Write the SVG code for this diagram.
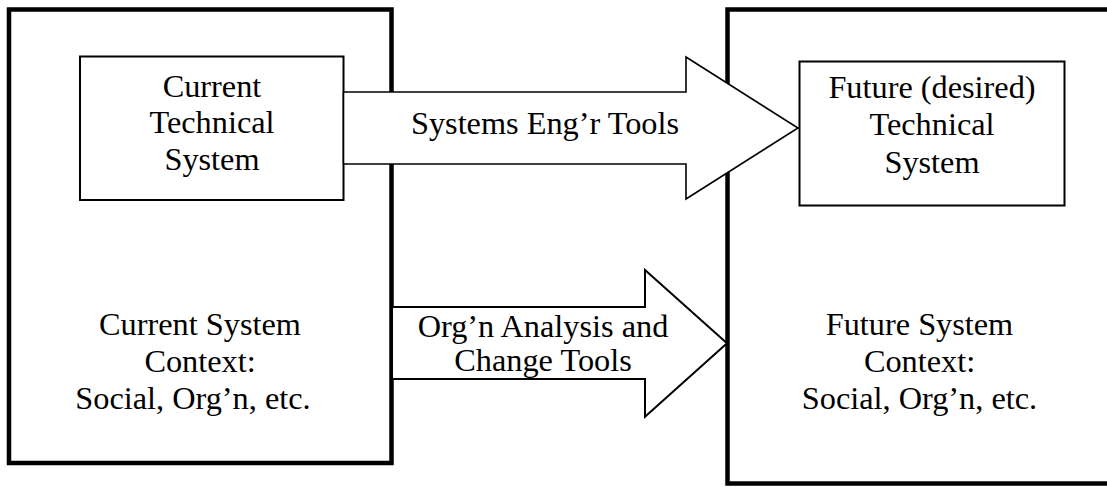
<svg xmlns="http://www.w3.org/2000/svg" width="1107" height="487" viewBox="0 0 1107 487">
<style>
  .outer { fill: #fff; stroke: #000; stroke-width: 4.5; }
  .inner { fill: #fff; stroke: #000; stroke-width: 2; }
  .arrow { fill: #fff; stroke: #000; stroke-width: 1.6; stroke-linejoin: miter; }
  text { font-family: "Liberation Serif", "Times New Roman", serif; font-size: 32.3px; fill: #000; text-anchor: middle; }
</style>
<rect width="1107" height="487" fill="#fff"/>
<g id="current-context">
  <rect class="outer" x="9" y="9.5" width="382.5" height="453.5"/>
  <text x="200" y="335">Current System</text>
  <text x="200" y="372">Context:</text>
  <text x="193" y="409">Social, Org’n, etc.</text>
</g>
<g id="future-context">
  <rect class="outer" x="727.5" y="9.5" width="390" height="474"/>
  <text x="919.5" y="335">Future System</text>
  <text x="919.5" y="372">Context:</text>
  <text x="919.5" y="408.5">Social, Org’n, etc.</text>
</g>
<g id="current-technical">
  <rect class="inner" x="80" y="56.5" width="263.5" height="143.5"/>
  <text x="212" y="96.5">Current</text>
  <text x="212" y="133">Technical</text>
  <text x="212" y="170">System</text>
</g>
<g id="future-technical">
  <rect class="inner" x="799.5" y="61.5" width="265" height="144"/>
  <text x="932" y="97.5">Future (desired)</text>
  <text x="932" y="135">Technical</text>
  <text x="932" y="172.5">System</text>
</g>
<g id="connectors">
  <g id="systems-eng-arrow">
    <polygon class="arrow" points="343.5,92 686,92 686,57 798,128 686,199 686,164 343.5,164"/>
    <text x="545" y="134">Systems Eng’r Tools</text>
  </g>
  <g id="orgn-arrow">
    <polygon class="arrow" style="stroke-width:2" points="392,307 645,307 645,270 727,343.3 645,416.7 645,379 392,379"/>
    <text x="543" y="336.5">Org’n Analysis and</text>
    <text x="543" y="371">Change Tools</text>
  </g>
</g>
</svg>
